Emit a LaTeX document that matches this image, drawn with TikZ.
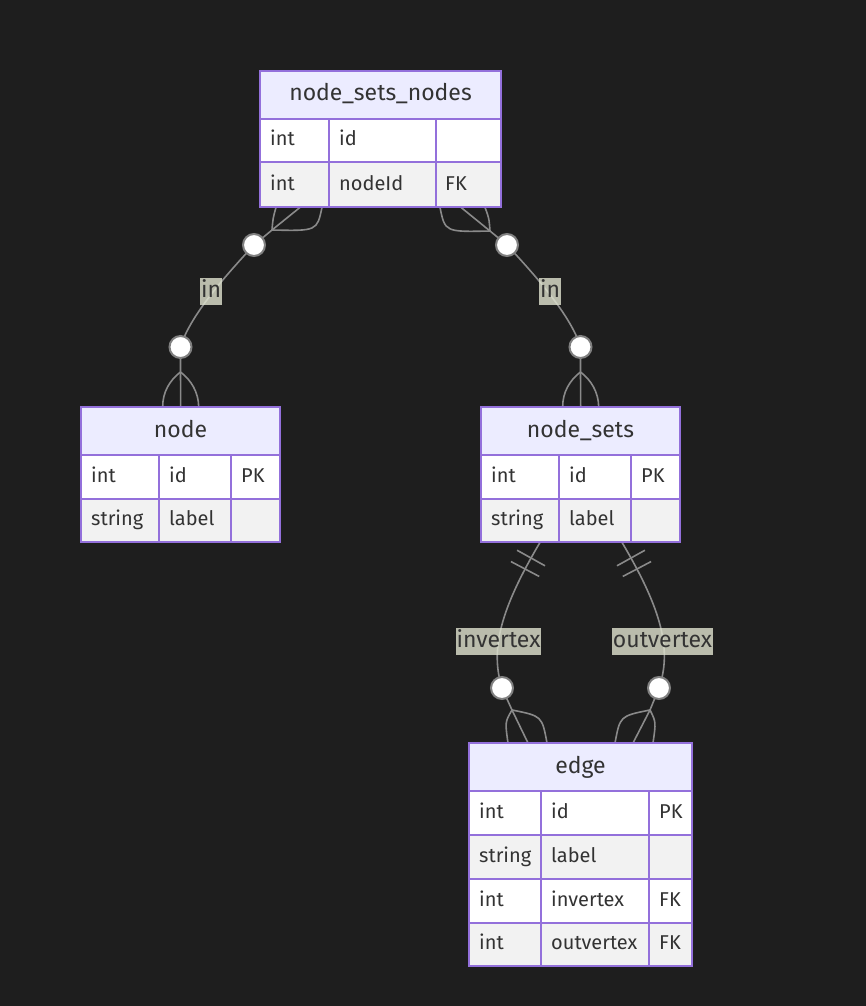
\documentclass[tikz,border=0pt]{standalone}
\usepackage{fontspec}
\setmainfont{Fira Sans}
\usetikzlibrary{decorations.markings}
\definecolor{bg}{HTML}{1E1E1E}
\definecolor{hdrfill}{HTML}{ECECFF}
\definecolor{erborder}{HTML}{9370DB}
\definecolor{rowodd}{HTML}{FFFFFF}
\definecolor{roweven}{HTML}{F2F2F2}
\definecolor{txt}{HTML}{333333}
\definecolor{connc}{HTML}{8A8A8A}
\definecolor{circc}{HTML}{808080}
\definecolor{lblbg}{RGB}{225,228,208}
\begin{document}
\begin{tikzpicture}[x=1pt,y=-1pt,
  hdrtext/.style={text=txt, font=\fontsize{23}{27}\selectfont, inner sep=0, anchor=base},
  attr/.style={text=txt, font=\fontsize{20}{24}\selectfont, anchor=base west, inner sep=0},
  grid/.style={draw=erborder, line width=2pt},
  border/.style={draw=erborder, line width=2pt},
  conn/.style={draw=connc, line width=1.6pt},
  zcirc/.style={circle, fill=white, draw=circc, line width=2pt, minimum size=22pt, inner sep=0},
  rlabel/.style={fill=lblbg, fill opacity=0.8, text opacity=1, text=txt, font=\fontsize{23}{27}\selectfont, inner xsep=1pt, inner ysep=0pt, text height=20pt, text depth=7pt},
  ebox/.style={anchor=north west, inner sep=0, draw=none},
  bars/.style={postaction={decorate}, decoration={markings,
     mark=at position 18pt with {\draw[conn] (0pt,-16pt) -- (0pt,16pt);},
     mark=at position 30.5pt with {\draw[conn] (0pt,-16pt) -- (0pt,16pt);}}},
]
\fill[bg] (0,0) rectangle (866,1006);
\useasboundingbox (0,0) rectangle (866,1006);

% entity frames (named)
\node[ebox, minimum width=241pt, minimum height=136pt] (nsn) at (260,71) {};
\node[ebox, minimum width=199pt, minimum height=135pt] (nd) at (81,407) {};
\node[ebox, minimum width=199pt, minimum height=135pt] (ns) at (481,407) {};
\node[ebox, minimum width=223pt, minimum height=223pt] (ed) at (469,743) {};

% ---------- connector A: node_sets_nodes -> node
\coordinate (sA) at ([xshift=40pt]nsn.south west);
\coordinate (fA1) at (272,230);
\coordinate (cA1) at (254,245);
\coordinate (cA2) at (180.5,347);
\coordinate (fA2) at (180.5,372);
\coordinate (eA) at (nd.north);
\draw[conn] (sA) -- (fA1) -- (cA1) .. controls (228,273) and (190,315) .. (cA2) -- (fA2) -- (eA);
\draw[conn] (fA1) .. controls (273,218) .. ([xshift=16pt]nsn.south west);
\draw[conn] (fA1) .. controls (317,231) .. ([xshift=62pt]nsn.south west);
\draw[conn] (fA2) .. controls (170,380) and (162.5,392) .. ([xshift=-18pt]eA);
\draw[conn] (fA2) .. controls (191,380) and (198.5,392) .. ([xshift=18pt]eA);
\node[zcirc] (oA1) at (cA1) {};
\node[zcirc] (oA2) at (cA2) {};
\node[rlabel] (lA) at (211,291) {in};

% ---------- connector B: node_sets_nodes -> node_sets
\coordinate (sB) at ([xshift=201pt]nsn.south west);
\coordinate (fB1) at (490,231);
\coordinate (cB1) at (507,245);
\coordinate (cB2) at (580.5,347);
\coordinate (fB2) at (580.5,372);
\coordinate (eB) at (ns.north);
\draw[conn] (sB) -- (fB1) -- (cB1) .. controls (533,273) and (571,315) .. (cB2) -- (fB2) -- (eB);
\draw[conn] (fB1) .. controls (489,218) .. ([xshift=225pt]nsn.south west);
\draw[conn] (fB1) .. controls (445,232) .. ([xshift=180pt]nsn.south west);
\draw[conn] (fB2) .. controls (570,380) and (562.5,392) .. ([xshift=-18pt]eB);
\draw[conn] (fB2) .. controls (591,380) and (598.5,392) .. ([xshift=18pt]eB);
\node[zcirc] (oB1) at (cB1) {};
\node[zcirc] (oB2) at (cB2) {};
\node[rlabel] (lB) at (550,291) {in};

% ---------- connector C: node_sets -> edge (invertex)
\coordinate (sC) at ([xshift=59pt]ns.south west);
\coordinate (cC) at (502,688);
\coordinate (fC) at (512,710);
\coordinate (eC) at ([xshift=59pt]ed.north west);
\draw[conn, bars] (sC) .. controls (500,610) and (490,650) .. (cC) -- (fC) -- (eC);
\draw[conn] (fC) .. controls (505,722) .. ([xshift=39pt]ed.north west);
\draw[conn] (fC) .. controls (542,716) .. ([xshift=78pt]ed.north west);
\node[zcirc] (oC) at (cC) {};
\node[rlabel] (lC) at (498.5,641) {invertex};

% ---------- connector D: node_sets -> edge (outvertex)
\coordinate (sD) at ([xshift=141pt]ns.south west);
\coordinate (cD) at (659,688);
\coordinate (fD) at (650,710);
\coordinate (eD) at ([xshift=164pt]ed.north west);
\draw[conn, bars] (sD) .. controls (662,610) and (672,650) .. (cD) -- (fD) -- (eD);
\draw[conn] (fD) .. controls (656,722) .. ([xshift=184pt]ed.north west);
\draw[conn] (fD) .. controls (620,716) .. ([xshift=146pt]ed.north west);
\node[zcirc] (oD) at (cD) {};
\node[rlabel] (lD) at (662.5,641) {outvertex};

% ---------- entity: node_sets_nodes
\fill[hdrfill] (260,71) rectangle (501,119);
\fill[rowodd] (260,119) rectangle (501,162);
\fill[roweven] (260,162) rectangle (501,207);
\draw[grid] (260,119) -- (501,119) (260,162) -- (501,162) (329,119) -- (329,207) (436,119) -- (436,207);
\draw[border] (260,71) rectangle (501,207);
\node[hdrtext] (t1) at (380.5,101) {node\_sets\_nodes};
\node[attr] (t2) at (270,146) {int};
\node[attr] (t3) at (339,146) {id};
\node[attr] (t4) at (270,190) {int};
\node[attr] (t5) at (339,190) {nodeId};
\node[attr] (t6) at (445,190) {FK};

% ---------- entity: node
\fill[hdrfill] (81,407) rectangle (280,455);
\fill[rowodd] (81,455) rectangle (280,499);
\fill[roweven] (81,499) rectangle (280,542);
\draw[grid] (81,455) -- (280,455) (81,499) -- (280,499) (159,455) -- (159,542) (231,455) -- (231,542);
\draw[border] (81,407) rectangle (280,542);
\node[hdrtext] (n1) at (180.5,437) {node};
\node[attr] (n2) at (91,482) {int};
\node[attr] (n3) at (169,482) {id};
\node[attr] (n4) at (241,482) {PK};
\node[attr] (n5) at (91,525.5) {string};
\node[attr] (n6) at (169,525.5) {label};

% ---------- entity: node_sets
\fill[hdrfill] (481,407) rectangle (680,455);
\fill[rowodd] (481,455) rectangle (680,499);
\fill[roweven] (481,499) rectangle (680,542);
\draw[grid] (481,455) -- (680,455) (481,499) -- (680,499) (559,455) -- (559,542) (631,455) -- (631,542);
\draw[border] (481,407) rectangle (680,542);
\node[hdrtext] (s1) at (580.5,437) {node\_sets};
\node[attr] (s2) at (491,482) {int};
\node[attr] (s3) at (569,482) {id};
\node[attr] (s4) at (641,482) {PK};
\node[attr] (s5) at (491,525.5) {string};
\node[attr] (s6) at (569,525.5) {label};

% ---------- entity: edge
\fill[hdrfill] (469,743) rectangle (692,791);
\fill[rowodd] (469,791) rectangle (692,835);
\fill[roweven] (469,835) rectangle (692,879);
\fill[rowodd] (469,879) rectangle (692,923);
\fill[roweven] (469,923) rectangle (692,966);
\draw[grid] (469,791) -- (692,791) (469,835) -- (692,835) (469,879) -- (692,879) (469,923) -- (692,923)
  (540.5,791) -- (540.5,966) (649,791) -- (649,966);
\draw[border] (469,743) rectangle (692,966);
\node[hdrtext] (e1) at (580.5,773) {edge};
\node[attr] (e2) at (479,818) {int};
\node[attr] (e3) at (551,818) {id};
\node[attr] (e4) at (659,818) {PK};
\node[attr] (e5) at (479,862) {string};
\node[attr] (e6) at (551,862) {label};
\node[attr] (e7) at (479,906) {int};
\node[attr] (e8) at (551,906) {invertex};
\node[attr] (e9) at (659,906) {FK};
\node[attr] (e10) at (479,949.5) {int};
\node[attr] (e11) at (551,949.5) {outvertex};
\node[attr] (e12) at (659,949.5) {FK};
\end{tikzpicture}
\end{document}
